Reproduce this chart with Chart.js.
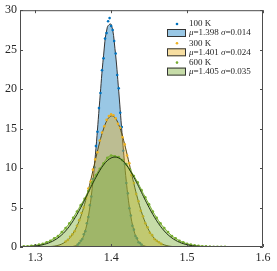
<!DOCTYPE html>
<html>
<head>
<meta charset="utf-8">
<script src="https://cdn.jsdelivr.net/npm/chart.js@4.4.1/dist/chart.umd.min.js"></script>
<style>html,body{margin:0;padding:0;background:#fff}</style>
</head>
<body>
<canvas id="c" width="277" height="271"></canvas>
<script>
// x grid of the fitted curves (and of the 600 K points)
var fitX = [1.28,1.285,1.29,1.295,1.30,1.305,1.31,1.315,1.32,1.325,1.33,1.335,1.34,1.345,1.35,1.355,1.36,1.365,1.37,1.375,
    1.38,1.385,1.39,1.395,1.40,1.405,1.41,1.415,1.42,1.425,1.43,1.435,1.44,1.445,1.45,1.455,1.46,1.465,1.47,1.475,
    1.48,1.485,1.49,1.495,1.50,1.505,1.51,1.515,1.52,1.525,1.53,1.535,1.54,1.545,1.55];
var fit100 = [0,0,0,0,0,0,0,0,0,0,0,0,0,0,0.08,0.25,0.72,1.77,3.86,7.39,
    12.47,18.52,24.21,27.85,28.21,25.15,19.74,13.64,8.30,4.44,2.09,0.87,0.32,0.10,0.03,0,0,0,0,0,
    0,0,0,0,0,0,0,0,0,0,0,0,0,0,0];
var fit300 = [0,0,0,0,0,0,0.01,0.03,0.06,0.11,0.21,0.38,0.66,1.09,1.74,2.65,3.86,5.40,7.22,9.24,
    11.33,13.31,14.96,16.11,16.61,16.39,15.49,14.02,12.15,10.08,8.01,6.10,4.44,3.10,2.07,1.32,0.81,0.47,0.27,0.14,
    0.07,0.03,0.02,0.01,0,0,0,0,0,0,0,0,0,0,0];
var fit600 = [0.02,0.03,0.05,0.08,0.13,0.19,0.29,0.42,0.60,0.84,1.15,1.54,2.03,2.62,3.32,4.11,4.99,5.93,6.91,7.90,
    8.83,9.68,10.40,10.94,11.28,11.40,11.28,10.94,10.40,9.68,8.83,7.90,6.91,5.93,4.99,4.11,3.32,2.62,2.03,1.54,
    1.15,0.84,0.60,0.42,0.29,0.19,0.13,0.08,0.05,0.03,0.02,0.01,0.01,0,0];

// measured points
var x100 = [1.356,1.358,1.360,1.362,1.364,1.366,1.368,1.370,1.372,1.374,1.376,1.378,1.380,1.382,1.384,1.386,1.388,1.390,1.392,1.394,
    1.396,1.398,1.400,1.402,1.404,1.406,1.408,1.410,1.412,1.414,1.416,1.418,1.420,1.422,1.424,1.426,1.428,1.430,1.432,1.434,
    1.436,1.438,1.440];
var y100 = [0.3,0.5,0.8,1.0,1.6,2.0,3.0,3.8,5.3,6.4,8.6,10.1,12.8,14.6,17.6,19.5,22.4,23.9,26.4,27.1,
    28.6,29.0,28.0,27.5,26.1,24.5,21.8,20.1,17.0,15.2,12.2,10.5,8.1,6.8,4.9,4.0,2.7,2.2,1.4,1.1,
    0.6,0.5,0.3];
var x300 = [1.340,1.343,1.346,1.349,1.352,1.355,1.358,1.361,1.364,1.367,1.370,1.373,1.376,1.379,1.382,1.385,1.388,1.391,1.394,1.397,
    1.400,1.403,1.406,1.409,1.412,1.415,1.418,1.421,1.424,1.427,1.430,1.433,1.436,1.439,1.442,1.445,1.448,1.451,1.454,1.457,
    1.460,1.463,1.466];
var y300 = [0.7,0.9,1.3,1.6,2.0,2.7,3.4,4.3,5.0,6.2,7.4,8.3,9.8,11.1,12.0,13.5,14.5,15.3,16.1,16.6,
    16.8,16.7,16.3,15.6,15.1,13.9,13.0,11.6,10.6,9.1,8.1,6.7,5.8,4.6,3.9,3.0,2.5,1.8,1.5,1.0,
    0.8,0.6,0.4];
var y600 = [0.05,0.08,0.1,0.15,0.2,0.3,0.4,0.6,0.8,1.1,1.4,1.9,2.4,3.0,3.7,4.5,5.3,6.1,7.1,8.2,
    9.1,9.9,10.6,11.3,11.6,11.5,11.4,11.0,10.5,9.8,9.0,8.2,7.2,6.3,5.4,4.5,3.7,3.0,2.4,1.9,
    1.4,1.1,0.8,0.6,0.4,0.3,0.2,0.15,0.1,0.08,0.05,0.03,0.02,0.01,0.01];

var xTicks = [1.3, 1.4, 1.5, 1.6];
var yTicks = [0, 5, 10, 15, 20, 25, 30];
var legendTemps = ['100 K', '300 K', '600 K'];
var legendMu = ['1.398', '1.401', '1.405'];
var legendSigma = ['0.014', '0.024', '0.035'];

var colBlue = '#0072BD', colOrange = '#EDB120', colGreen = '#77AC30';
var fillBlue = 'rgba(0,114,189,0.4)', fillOrange = 'rgba(237,177,32,0.42)', fillGreen = 'rgba(119,172,48,0.42)';
var serif = '"Liberation Serif", "DejaVu Serif", serif';

function pts(xs, ys){
    return xs.map(function(x, i){ return {x: x, y: ys[i]}; });
}

/*Caja de ejes con marcas hacia adentro y leyenda*/
var boxPlugin = {
    id: 'box',
    afterDatasetsDraw: function(chart){
        var ctx = chart.ctx, a = chart.chartArea, sx = chart.scales.x, sy = chart.scales.y, i, p, tl = 3;
        ctx.save();
        ctx.strokeStyle = '#4d4d4d';
        ctx.lineWidth = 1;
        ctx.beginPath();
        ctx.rect(a.left + 0.5, a.top + 0.5, a.right - a.left - 1, a.bottom - a.top - 1);
        ctx.stroke();
        ctx.beginPath();
        for(i in xTicks){
            p = Math.round(sx.getPixelForValue(xTicks[i])) + 0.5;
            ctx.moveTo(p, a.bottom); ctx.lineTo(p, a.bottom - tl);
            ctx.moveTo(p, a.top); ctx.lineTo(p, a.top + tl);
        }
        for(i in yTicks){
            p = Math.round(sy.getPixelForValue(yTicks[i])) + 0.5;
            ctx.moveTo(a.left, p); ctx.lineTo(a.left + tl, p);
            ctx.moveTo(a.right, p); ctx.lineTo(a.right - tl, p);
        }
        ctx.stroke();

        // leyenda
        var cols = [colBlue, colOrange, colGreen], fills = [fillBlue, fillOrange, fillGreen];
        var y0 = 24, step = 19.3, tx = 189, x, fs = '9px ';
        ctx.textBaseline = 'middle';
        for(i = 0; i < 3; i++){
            var yd = y0 + i * step, yp = yd + 9;
            ctx.fillStyle = cols[i];
            ctx.beginPath(); ctx.arc(177, yd, 1.3, 0, Math.PI * 2); ctx.fill();
            ctx.fillStyle = '#262626';
            ctx.font = fs + serif;
            ctx.fillText(legendTemps[i], tx, yd);
            ctx.fillStyle = fills[i];
            ctx.fillRect(167, yp - 4, 19, 8);
            ctx.strokeStyle = '#333';
            ctx.strokeRect(167.5, yp - 3.5, 18, 7);
            ctx.fillStyle = '#262626';
            x = tx;
            ctx.font = 'italic ' + fs + serif;
            ctx.fillText('\u03bc', x, yp); x += ctx.measureText('\u03bc').width;
            ctx.font = fs + serif;
            ctx.fillText('=' + legendMu[i] + ' ', x, yp); x += ctx.measureText('=' + legendMu[i] + ' ').width;
            ctx.font = 'italic ' + fs + serif;
            ctx.fillText('\u03c3', x, yp); x += ctx.measureText('\u03c3').width;
            ctx.font = fs + serif;
            ctx.fillText('=' + legendSigma[i], x, yp);
        }
        ctx.restore();
    }
};

new Chart(document.getElementById('c'), {
    type: 'line',
    data: {
        datasets: [
            {data: pts(fitX, fit100), borderColor: '#333', borderWidth: 1, backgroundColor: fillBlue, fill: 'origin',
                pointRadius: 0, tension: 0.4, order: 9},
            {data: pts(x100, y100), showLine: false, pointRadius: 1.3, pointBackgroundColor: colBlue,
                pointBorderWidth: 0, order: 8},
            {data: pts(fitX, fit300), borderColor: '#5a4a14', borderWidth: 1, backgroundColor: fillOrange, fill: 'origin',
                pointRadius: 0, tension: 0.4, order: 7},
            {data: pts(x300, y300), showLine: false, pointRadius: 1.3, pointBackgroundColor: colOrange,
                pointBorderWidth: 0, order: 6},
            {data: pts(fitX, y600), borderColor: colGreen, borderWidth: 1, backgroundColor: fillGreen, fill: 'origin',
                pointRadius: 1.3, pointBackgroundColor: colGreen, pointBorderWidth: 0, tension: 0.3, order: 5},
            {data: pts(fitX, fit600), borderColor: '#1f3310', borderWidth: 1, fill: false,
                pointRadius: 0, tension: 0.4, order: 4}
        ]
    },
    options: {
        responsive: false,
        animation: false,
        devicePixelRatio: 1,
        layout: {padding: {top: 10, right: 14, left: 0, bottom: 0}},
        plugins: {legend: {display: false}, tooltip: {enabled: false}},
        scales: {
            x: {
                type: 'linear', min: 1.28, max: 1.6,
                afterBuildTicks: function(s){ s.ticks = xTicks.map(function(v){ return {value: v}; }); },
                afterFit: function(s){ s.height = 24; },
                grid: {display: false, drawTicks: false}, border: {display: false},
                ticks: {autoSkip: false, maxRotation: 0, padding: 4, color: '#262626',
                    font: {family: serif, size: 12},
                    callback: function(v){ return v.toFixed(1); }}
            },
            y: {
                min: 0, max: 30,
                afterBuildTicks: function(s){ s.ticks = yTicks.map(function(v){ return {value: v}; }); },
                afterFit: function(s){ s.width = 20; },
                grid: {display: false, drawTicks: false}, border: {display: false},
                ticks: {padding: 3, color: '#262626', font: {family: serif, size: 12}}
            }
        }
    },
    plugins: [boxPlugin]
});
</script>
</body>
</html>
